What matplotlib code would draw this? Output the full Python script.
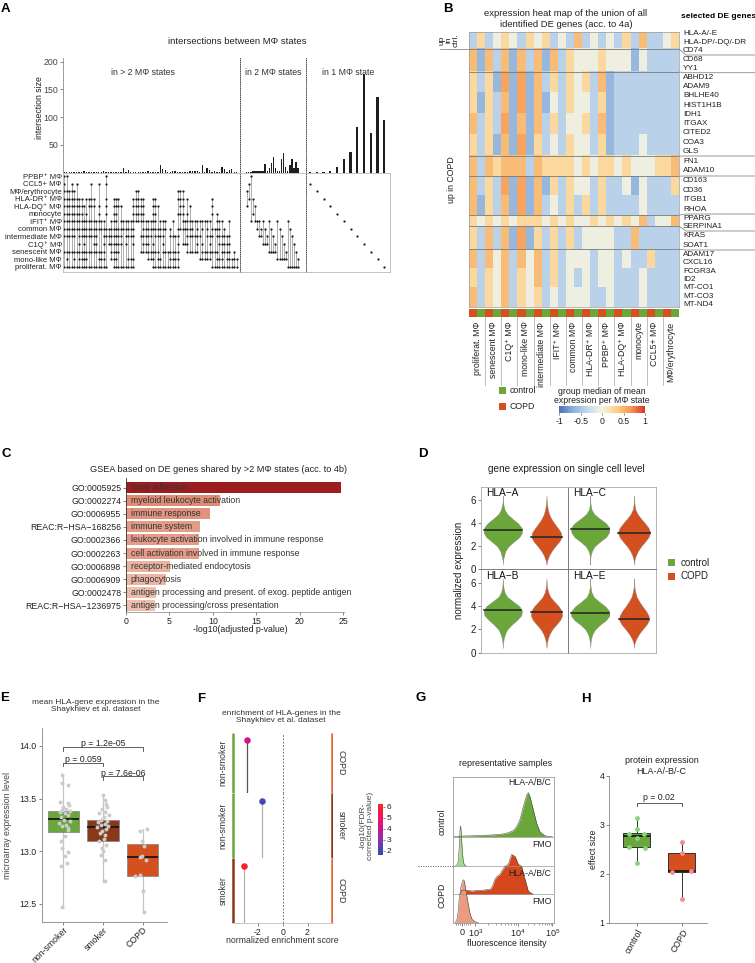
import numpy as np
import matplotlib
matplotlib.use('Agg')
import matplotlib.pyplot as plt
from matplotlib.colors import LinearSegmentedColormap, ListedColormap, Normalize
from matplotlib.patches import Rectangle
from matplotlib.lines import Line2D
from matplotlib.cm import ScalarMappable

plt.rcParams['font.family'] = ['Liberation Sans', 'DejaVu Sans']
plt.rcParams['mathtext.fontset'] = 'custom'
plt.rcParams['mathtext.rm'] = 'Liberation Sans'
plt.rcParams['mathtext.it'] = 'Liberation Sans:italic'
plt.rcParams['mathtext.bf'] = 'Liberation Sans:bold'
plt.rcParams['mathtext.default'] = 'regular'
plt.rcParams['axes.linewidth'] = 0.6
for a in ('xtick', 'ytick'):
    plt.rcParams[a + '.major.size'] = 2.0
    plt.rcParams[a + '.major.width'] = 0.5
    plt.rcParams[a + '.major.pad'] = 1.5
    plt.rcParams[a + '.minor.size'] = 1.2
    plt.rcParams[a + '.minor.width'] = 0.4
    plt.rcParams[a + '.color'] = '#555555'
    plt.rcParams[a + '.labelcolor'] = '#222222'
    plt.rcParams[a + '.labelsize'] = 6.3

# ============================ DATA ============================
# ---- Panel A: UpSet plot ----
A_sets = ['PPBP\u207a MΦ', 'CCL5+ MΦ', 'MΦ/erythrocyte', 'HLA-DR\u207a MΦ', 'HLA-DQ\u207a MΦ',
          'monocyte', 'IFIT\u207a MΦ', 'common MΦ', 'intermediate MΦ', 'C1Q\u207a MΦ',
          'senescent MΦ', 'mono-like MΦ', 'proliferat. MΦ']
# membership of the >2-state intersections, as runs of column indices per set
A_multi_runs = [
    [(0, 1), (17, 17)],
    [(0, 0), (3, 3), (5, 5), (11, 11), (14, 14), (17, 17)],
    [(0, 4), (29, 30), (46, 48)],
    [(0, 7), (9, 12), (17, 17), (20, 22), (28, 32), (36, 37), (46, 48), (50, 50), (60, 60)],
    [(0, 8), (10, 12), (14, 14), (17, 17), (20, 23), (28, 32), (36, 38), (47, 48), (51, 51), (60, 60)],
    [(0, 7), (9, 9), (14, 14), (17, 17), (20, 21), (28, 32), (36, 37), (46, 48), (50, 50), (60, 60), (62, 62)],
    [(0, 16), (19, 21), (23, 27), (28, 32), (33, 37), (39, 41), (44, 44), (48, 54), (55, 58), (59, 59), (62, 64), (67, 67)],
    [(0, 28), (32, 41), (43, 43), (46, 52), (54, 54), (56, 56), (58, 58), (60, 63), (65, 65)],
    [(0, 4), (6, 9), (10, 13), (16, 23), (25, 28), (31, 35), (37, 40), (43, 46), (50, 55), (58, 60), (62, 67)],
    [(6, 6), (8, 8), (12, 13), (16, 16), (18, 21), (22, 22), (23, 23), (25, 25), (28, 28), (32, 34), (36, 36),
     (40, 40), (46, 46), (48, 50), (54, 54), (56, 56), (59, 59), (63, 67)],
    [(0, 16), (19, 22), (31, 38), (40, 46), (50, 54), (56, 62), (64, 67), (69, 69)],
    [(1, 1), (4, 4), (6, 6), (7, 9), (14, 16), (19, 21), (26, 28), (34, 36), (38, 39), (43, 46), (55, 59),
     (62, 64), (66, 70)],
    [(0, 9), (9, 17), (20, 28), (36, 46), (60, 70)],
]
A_multi_sizes = [1, 1, 1, 1, 1, 1, 1, 1, 2, 1,
                 1, 1, 1, 1, 1, 1, 2, 1, 1, 1,
                 1, 1, 1, 1, 8, 1, 5, 1, 1, 1,
                 1, 1, 1, 1, 2, 1, 1, 1, 1, 13,
                 7, 5, 1, 1, 3, 3, 1, 1, 1, 1,
                 1, 2, 3, 2, 3, 1, 14, 1, 9, 4,
                 1, 2, 1, 1, 10, 7, 1, 5, 6, 1,
                 1]
A_pair_members = [(2, 4), (1, 3), (0, 6), (3, 5), (4, 6), (6, 7), (6, 8), (7, 8), (6, 9), (7, 9), (8, 9),
                  (6, 10), (7, 10), (8, 10), (9, 10), (6, 11), (7, 11), (8, 11), (9, 11), (10, 11),
                  (6, 12), (7, 12), (8, 12), (9, 12), (10, 12), (11, 12)]
A_pair_sizes = [1, 1, 1, 2, 3, 3, 3, 3, 3, 15, 3, 9, 17, 28, 9, 2, 2, 25, 35, 11, 2, 13, 25, 9, 19, 9]
A_single_members = [1, 2, 3, 4, 5, 6, 7, 8, 9, 10, 11, 12]
A_single_sizes = [1, 1, 1, 2, 10, 25, 37, 82, 178, 72, 136, 94]
A_regions = ['in > 2 MΦ states', 'in 2 MΦ states', 'in 1 MΦ state']
A_yticks = [50, 100, 150, 200]

# ---- Panel B: heat map ----
B_states = ['proliferat. MΦ', 'senescent MΦ', 'C1Q\u207a MΦ', 'mono-like MΦ', 'intermediate MΦ',
            'IFIT\u207a MΦ', 'common MΦ', 'HLA-DR\u207a MΦ', 'PPBP\u207a MΦ', 'HLA-DQ\u207a MΦ',
            'monocyte', 'CCL5+ MΦ', 'MΦ/erythrocyte']
B_conditions = ['COPD', 'control']
# each digit is a colour level (see B_levels); pairs = (COPD, control) per state
B_levels = [-1.0, -0.8, -0.62, -0.4, -0.05, 0.25, 0.45, 0.6, 0.8]
B_bands = [
    "35 34 54 35 45 34 36 34 34 35 36 33 45",
    "62 63 62 63 62 63 54 44 54 44 24 33 33",
    "53 52 72 72 63 53 54 53 62 33 33 33 33",
    "52 53 62 72 62 43 54 43 52 33 33 33 33",
    "63 53 72 62 63 53 44 53 62 33 33 33 33",
    "53 52 62 72 53 43 54 43 52 33 34 33 33",
    "63 65 66 63 65 55 54 54 55 45 44 45 56",
    "63 53 72 72 62 53 54 43 53 34 24 33 35",
    "62 53 62 72 63 43 53 53 53 33 34 33 33",
    "54 54 54 55 54 54 54 45 45 45 46 34 46",
    "53 63 62 72 53 53 53 44 44 33 63 33 33",
    "63 64 63 64 63 53 44 43 44 34 33 53 33",
    "53 54 63 54 63 53 43 43 44 33 34 33 33",
    "63 54 63 54 53 43 44 43 34 33 34 33 33",
]
B_band_rows = [17, 23, 21, 21, 21, 21, 20, 19, 20, 11, 23, 19, 19, 20]
B_block_bands = [1, 1, 4, 1, 2, 1, 1, 3]
B_genes = [['HLA-A/-E', 'HLA-DP/-DQ/-DR', 'CD74'], ['CD68', 'YY1'],
           ['ABHD12', 'ADAM9', 'BHLHE40', 'HIST1H1B', 'IDH1', 'ITGAX', 'CITED2', 'COA3', 'GLS'],
           ['FN1', 'ADAM10'], ['CD163', 'CD36', 'ITGB1', 'RHOA'], ['PPARG', 'SERPINA1'],
           ['KRAS', 'SOAT1'], ['ADAM17', 'CXCL16', 'FCGR3A', 'ID2', 'MT-CO1', 'MT-CO3', 'MT-ND4']]
B_cbar_ticks = [-1, -0.5, 0, 0.5, 1]
B_cbar_labels = ['-1', '-0.5', '0', '0.5', '1']

# ---- Panel C: GSEA ----
C_terms = ['GO:0005925', 'GO:0002274', 'GO:0006955', 'REAC:R\u2212HSA\u2212168256', 'GO:0002366',
           'GO:0002263', 'GO:0006898', 'GO:0006909', 'GO:0002478', 'REAC:R\u2212HSA\u22121236975']
C_desc = ['focal adhesion', 'myeloid leukocyte activation', 'immune response', 'immune system',
          'leukocyte activation involved in immune response', 'cell activation involved in immune response',
          'receptor-mediated endocytosis', 'phagocytosis',
          'antigen processing and present. of exog. peptide antigen', 'antigen processing/cross presentation']
C_values = [24.7, 10.8, 9.7, 8.5, 8.4, 8.4, 5.1, 4.6, 3.5, 3.3]
C_xticks = [0, 5, 10, 15, 20, 25]

# ---- Panel D: violins (half-widths read at D_grid levels) ----
D_genes = ['HLA\u2212A', 'HLA\u2212C', 'HLA\u2212B', 'HLA\u2212E']
D_groups = ['control', 'COPD']
D_grid = [0.4, 0.8, 1.2, 1.6, 2.0, 2.4, 2.8, 3.2, 3.6, 4.0, 4.4, 4.8, 5.2, 5.6, 6.0, 6.4]
D_width_ctrl = [
    [0, 0.005, 0.03, 0.06, 0.13, 0.25, 0.38, 0.44, 0.43, 0.35, 0.22, 0.10, 0.04, 0.015, 0, 0],
    [0, 0, 0.01, 0.04, 0.10, 0.22, 0.36, 0.43, 0.44, 0.36, 0.22, 0.09, 0.03, 0.01, 0, 0],
    [0, 0.005, 0.02, 0.05, 0.10, 0.20, 0.32, 0.42, 0.44, 0.38, 0.24, 0.10, 0.04, 0.015, 0.005, 0],
    [0, 0.005, 0.02, 0.05, 0.11, 0.22, 0.36, 0.44, 0.43, 0.34, 0.20, 0.08, 0.03, 0.01, 0, 0],
]
D_width_copd = [
    [0, 0.02, 0.06, 0.12, 0.20, 0.29, 0.35, 0.33, 0.26, 0.18, 0.11, 0.06, 0.03, 0.015, 0.005, 0],
    [0, 0.01, 0.04, 0.09, 0.16, 0.25, 0.33, 0.37, 0.33, 0.25, 0.16, 0.08, 0.03, 0.012, 0.004, 0],
    [0, 0.01, 0.03, 0.07, 0.13, 0.22, 0.31, 0.36, 0.35, 0.28, 0.18, 0.09, 0.04, 0.015, 0.005, 0],
    [0, 0.01, 0.05, 0.11, 0.19, 0.28, 0.34, 0.33, 0.27, 0.19, 0.12, 0.06, 0.03, 0.01, 0.004, 0],
]
D_median_ctrl = [3.42, 3.5, 3.7, 3.45]
D_median_copd = [2.85, 3.15, 3.5, 2.9]
D_yticks = [0, 2, 4, 6]

# ---- Panel E: box plots ----
E_groups = ['non-smoker', 'smoker', 'COPD']
E_box = [(13.18, 13.31, 13.38, 12.46, 13.72),   # q1, median, q3, low, high
         (13.10, 13.23, 13.30, 12.71, 13.53),
         (12.76, 12.94, 13.07, 12.41, 13.21)]
E_pts_ns = [13.72, 13.65, 13.63, 13.47, 13.46, 13.44, 13.42, 13.40, 13.39, 13.38, 13.37, 13.36, 13.34,
            13.32, 13.30, 13.29, 13.27, 13.25, 13.24, 13.22, 13.20, 13.14, 13.10, 13.03, 12.99, 12.95,
            12.89, 12.86, 12.47]
E_jit_ns = [-0.02, -0.03, 0.13, -0.07, 0.11, 0.15, 0.0, 0.07, -0.04, 0.18, -0.09, 0.04, 0.12,
            -0.06, 0.02, 0.16, -0.1, 0.08, -0.03, 0.12, 0.13, 0.05, -0.05, -0.04, 0.13, 0.04,
            0.09, -0.06, -0.03]
E_pts_sm = [13.53, 13.49, 13.45, 13.42, 13.40, 13.37, 13.36, 13.34, 13.32, 13.30, 13.29, 13.28, 13.26,
            13.25, 13.24, 13.23, 13.21, 13.19, 13.17, 13.15, 13.12, 13.10, 13.06, 13.03, 13.00, 12.96,
            12.92, 12.72]
E_jit_sm = [0.0, 0.05, 0.08, 0.11, -0.03, 0.06, -0.1, 0.14, 0.02, -0.06, 0.1, -0.12, 0.04,
            -0.04, 0.12, -0.15, 0.08, -0.02, -0.08, 0.06, 0.02, -0.1, 0.07, -0.02, 0.0, -0.06,
            0.05, 0.05]
E_pts_co = [13.21, 13.19, 13.10, 13.05, 12.95, 12.94, 12.92, 12.77, 12.76, 12.62, 12.42]
E_jit_co = [0.1, -0.07, -0.03, 0.03, -0.03, -0.08, 0.08, -0.07, -0.19, 0.0, 0.02]
E_pvals = [(1, 3, 13.99, 'p = 1.2e-05'), (1, 2, 13.84, 'p = 0.059'), (2, 3, 13.71, 'p = 7.6e-06')]
E_yticks = [12.5, 13.0, 13.5, 14.0]

# ---- Panel F: lollipops ----
F_left = ['non-smoker', 'non-smoker', 'smoker']
F_right = ['COPD', 'smoker', 'COPD']
F_nes = [-2.9, -1.67, -3.1]
F_logp = [4.2, 2.0, 6.0]
F_xticks = [-2, 0, 2]
F_cbar_ticks = [2, 3, 4, 5, 6]

# ---- Panel G: flow histograms (x in display units, heights normalised) ----
G_tick_pos = [0, 13, 55.4, 90]
G_tick_lab = ['0', '$10^{3}$', '$10^{4}$', '$10^{5}$']
G_ctrl_hla_t = [-8, -4, 0, 10, 20, 30, 40, 46, 51, 54.4, 57.7, 61, 64.4, 66, 67.7, 71, 74.4, 77.7, 82.7, 90]
G_ctrl_hla_h = [0, 0.01, 0.015, 0.02, 0.03, 0.04, 0.06, 0.09, 0.14, 0.23, 0.39, 0.68, 0.95, 1.0, 0.91,
                0.61, 0.30, 0.11, 0.02, 0]
G_ctrl_fmo_t = [-7, -5, -4, -3, -2.2, -1.6, -1, 0, 1, 2, 4]
G_ctrl_fmo_h = [0, 0.03, 0.12, 0.5, 0.92, 1.0, 0.82, 0.38, 0.12, 0.03, 0]
G_copd_hla_t = [-2, -0.6, 5, 10, 15, 20, 25, 27.7, 30, 32.7, 35, 37.7, 40, 42.7, 46, 49.4, 51, 52.7, 56,
                59.4, 61, 62.7, 66, 71]
G_copd_hla_h = [0, 0.1, 0.1, 0.08, 0.1, 0.1, 0.12, 0.12, 0.19, 0.38, 0.45, 0.5, 0.6, 0.7, 0.75, 1.0,
                0.97, 0.95, 0.75, 0.7, 0.5, 0.38, 0.08, 0]
G_copd_fmo_t = [-7, -5, -4, -3, -1, 1, 2, 4, 6, 8, 10, 13, 16]
G_copd_fmo_h = [0, 0.1, 0.3, 0.58, 0.88, 1.0, 0.97, 0.7, 0.42, 0.19, 0.07, 0.02, 0]

# ---- Panel H ----
H_groups = ['control', 'COPD']
H_box = [(2.55, 2.77, 2.84, 2.21, 3.14), (2.03, 2.05, 2.42, 1.48, 2.64)]
H_pts_ctrl = [3.14, 2.92, 2.82, 2.82, 2.73, 2.55, 2.52, 2.21]
H_jit_ctrl = [0.0, 0.0, -0.18, 0.16, 0.0, -0.18, 0.18, 0.0]
H_pts_copd = [2.64, 2.42, 2.04, 2.05, 1.48]
H_jit_copd = [0.0, 0.0, -0.21, 0.2, 0.0]
H_p = (1, 2, 3.44, 'p = 0.02')
H_yticks = [1, 2, 3, 4]

# ============================ STYLE ============================
GREEN = '#6aa63a'
COPD_C = '#d4501e'
SMOKER_C = '#8a3818'
HEAT_CMAP = LinearSegmentedColormap.from_list(
    'heat', ['#4a74b4', '#8fb4dc', '#c6daee', '#f6f3df', '#fcd08a', '#f59a55', '#d7352a'])
W, H = 755, 963
fig = plt.figure(figsize=(W / 100, H / 100), dpi=100)


def ax_px(x0, y0, x1, y1):
    return fig.add_axes([x0 / W, 1 - y1 / H, (x1 - x0) / W, (y1 - y0) / H])


def txt(x, y, s, **kw):
    kw.setdefault('fontsize', 6.3)
    kw.setdefault('color', '#222222')
    return fig.text(x / W, 1 - y / H, s, **kw)


def rect_px(x0, y0, x1, y1, color):
    fig.add_artist(Rectangle((x0 / W, 1 - y1 / H), (x1 - x0) / W, (y1 - y0) / H,
                             transform=fig.transFigure, color=color, lw=0))


def line_px(xs, ys, **kw):
    fig.add_artist(Line2D([x / W for x in xs], [1 - y / H for y in ys], transform=fig.transFigure, **kw))


def hide(ax, sides):
    for s in sides:
        ax.spines[s].set_visible(False)


for lab, (x, y) in zip('ABCDEFGH', [(1, 9), (443, 9), (1, 454), (418, 454), (0, 698), (197, 699),
                                    (416, 698), (581, 699)]):
    txt(x, y, lab, fontsize=9.5, fontweight='bold', ha='left', va='center', color='black')

# ============================ PANEL A ============================
txt(237, 42, 'intersections between MΦ states', ha='center', va='center', fontsize=6.8)
txt(39.5, 108, 'intersection size', rotation=90, ha='center', va='center', fontsize=6.3)

multi_cols = [[] for _ in A_multi_sizes]
for r, runs in enumerate(A_multi_runs):
    for a, b in runs:
        for c in range(a, b + 1):
            if r not in multi_cols[c]:
                multi_cols[c].append(r)
pair_cols = [list(p) for p in A_pair_members]
single_cols = [[r] for r in A_single_members]

regions = [
    (63, 240, multi_cols, A_multi_sizes, (-0.53, 71.34), 0.55),
    (240, 306, pair_cols, A_pair_sizes, (-3.27, 28.9), 0.7),
    (306, 390, single_cols, A_single_sizes, (-0.59, 11.84), 0.32),
]
YTOP = 206.7
DOT = (0, (1, 1.6))
for k, (x0, x1, cols, sizes, xl, bw) in enumerate(regions):
    axb = ax_px(x0, 58, x1, 172.6)
    axb.bar(np.arange(len(sizes)), sizes, width=bw, color='#1e1e1e', linewidth=0)
    axb.set_xlim(*xl)
    axb.set_ylim(0, YTOP)
    axb.set_xticks([])
    hide(axb, ['top', 'right', 'bottom'])
    axb.patch.set_alpha(0)
    if k == 0:
        axb.spines['left'].set_color('#8a8a8a')
        axb.set_yticks(A_yticks)
        axb.tick_params(axis='y', labelsize=6.3, labelcolor='#444444')
    else:
        axb.spines['left'].set_linestyle(DOT)
        axb.spines['left'].set_color('#333333')
        axb.set_yticks([])
    axb.text(0.45 if k == 0 else 0.5, 0.87, A_regions[k], transform=axb.transAxes, ha='center', va='center',
             fontsize=6.3, color='#333333')

    axm = ax_px(x0, 172.6, x1, 272)
    axm.set_xlim(*xl)
    axm.set_ylim(12.7, -0.45)
    for i, mem in enumerate(cols):
        if len(mem) > 1:
            axm.plot([i, i], [min(mem), max(mem)], color='#a0a0a0', lw=0.6, zorder=1)
        axm.plot([i] * len(mem), mem, 'o', ms=1.6, color='#1a1a1a', mew=0, zorder=2)
    axm.set_xticks([])
    for s in ['top', 'bottom']:
        axm.spines[s].set_color('#b8b8b8')
    if k == 0:
        axm.spines['left'].set_color('#b8b8b8')
        axm.set_yticks(range(len(A_sets)))
        axm.set_yticklabels(A_sets, fontsize=5.5)
        axm.tick_params(axis='y', length=0, pad=0.8)
    else:
        axm.spines['left'].set_linestyle(DOT)
        axm.spines['left'].set_color('#333333')
        axm.set_yticks([])
    if k == 2:
        axm.spines['right'].set_color('#b8b8b8')
    else:
        axm.spines['right'].set_visible(False)

# ============================ PANEL B ============================
txt(566, 19, 'expression heat map of the union of all\nidentified DE genes (acc. to 4a)',
    ha='center', va='center', fontsize=6.8, linespacing=1.15)
txt(681, 17, 'selected DE genes', ha='left', va='center', fontsize=6.0, fontweight='bold', color='black')

hm = []
for band, n in zip(B_bands, B_band_rows):
    digits = band.replace(' ', '')
    hm.extend([[B_levels[int(ch)] for ch in digits]] * n)
hm = np.array(hm)
nrow, ncol = hm.shape
HX0, HY0, HX1, HY1 = 469, 32, 679, 307.3
axH = ax_px(HX0, HY0, HX1, HY1)
axH.imshow(hm, aspect='auto', cmap=HEAT_CMAP, vmin=-1, vmax=1, interpolation='nearest',
           extent=(0, ncol, nrow, 0))
axH.set_xticks([])
axH.set_yticks([])
for s in axH.spines.values():
    s.set_color('#9a9a9a')
    s.set_linewidth(0.5)
bounds = np.cumsum(B_band_rows)
block_ends = []
k = 0
for nb in B_block_bands:
    k += nb
    block_ends.append(bounds[k - 1])
for b in block_ends[:-1]:
    axH.axhline(b, color='#7a7a7a', lw=0.6)

LABEL_SEPS = [29, 55, 72.7, 156, 176, 214, 231, 250, 309]
for g, genes in enumerate(B_genes):
    top, bot = LABEL_SEPS[g], LABEL_SEPS[g + 1]
    step = (bot - top) / len(genes)
    for i, gname in enumerate(genes):
        txt(683, top + (i + 0.5) * step, gname, ha='left', va='center', fontsize=5.9)
    if g < len(B_genes) - 1:
        yb = HY0 + block_ends[g] * (HY1 - HY0) / nrow
        line_px([HX1, 686, 755], [yb, bot, bot], color='#8a8a8a', lw=0.6)

yb0 = HY0 + block_ends[0] * (HY1 - HY0) / nrow
line_px([440, HX1], [yb0, yb0], color='#8a8a8a', lw=0.6)
txt(449, 40, 'up\nin\nctrl.', rotation=90, ha='center', va='center', fontsize=6.0, linespacing=1.0)
txt(451, 180, 'up in COPD', rotation=90, ha='center', va='center', fontsize=6.3)

cond_codes = np.array([[B_conditions.index(c) for _ in B_states for c in B_conditions]])
axA = ax_px(HX0, 309, HX1, 317.5)
axA.imshow(cond_codes, aspect='auto', cmap=ListedColormap([COPD_C, GREEN]), vmin=0, vmax=1,
           extent=(0, ncol, 1, 0), interpolation='nearest')
axA.axis('off')

axL = ax_px(HX0, 317.5, HX1, 386)
axL.set_xlim(0, ncol)
axL.set_ylim(0, 1)
axL.axis('off')
for i in range(1, len(B_states)):
    axL.plot([2 * i, 2 * i], [0, 1], color='#b4b4b4', lw=0.6)
for i, s in enumerate(B_states):
    axL.text(2 * i + 1, 0.94, s, rotation=90, ha='center', va='top', fontsize=6.3, color='#222222')

rect_px(498.7, 386.7, 506, 394, GREEN)
txt(509.5, 390.5, 'control', ha='left', va='center', fontsize=6.3)
rect_px(498.7, 402.7, 506, 409.7, COPD_C)
txt(509.5, 406.2, 'COPD', ha='left', va='center', fontsize=6.3)
txt(602, 396, 'group median of mean\nexpression per MΦ state', ha='center', va='center',
    fontsize=6.3, linespacing=1.05)
caxB = ax_px(559.3, 406, 645, 412.7)
cbB = fig.colorbar(ScalarMappable(norm=Normalize(-1, 1), cmap=HEAT_CMAP), cax=caxB,
                   orientation='horizontal', ticks=B_cbar_ticks)
cbB.ax.set_xticklabels(B_cbar_labels)
cbB.outline.set_visible(False)
cbB.ax.tick_params(length=1.5, labelsize=6.3, pad=1.5)

# ============================ PANEL C ============================
txt(218, 469, 'GSEA based on DE genes shared by >2 MΦ states (acc. to 4b)', ha='center', va='center',
    fontsize=6.6)
axC = ax_px(126, 478, 343.5, 612.3)
cmapC = LinearSegmentedColormap.from_list('c', ['#f7d3c5', '#d9826a', '#9b1b1e'])
normC = Normalize(0, 25)
yC = np.arange(len(C_values))
axC.barh(yC, C_values, height=0.84, color=cmapC(normC(np.array(C_values))), lw=0)
axC.set_ylim(9.54, -0.745)
axC.set_xlim(0, 25.02)
axC.set_yticks(yC)
axC.set_yticklabels(C_terms, fontsize=6.3)
axC.set_xticks(C_xticks)
for yi, d in zip(yC, C_desc):
    axC.text(0.55, yi, d, va='center', ha='left', fontsize=6.3, color='#333333')
hide(axC, ['top', 'right'])
axC.spines['left'].set_color('#333333')
axC.spines['bottom'].set_color('#999999')
txt(240, 629, '-log10(adjusted p-value)', ha='center', va='center', fontsize=6.3)

# ============================ PANEL D ============================
txt(566, 469, 'gene expression on single cell level', ha='center', va='center', fontsize=7.2)
txt(459, 570, 'normalized expression', rotation=90, ha='center', va='center', fontsize=7)
D_boxes = [(481, 486.7, 568.3, 569.3), (568.3, 486.7, 656, 569.3),
           (481, 569.3, 568.3, 652.7), (568.3, 569.3, 656, 652.7)]
for gi, (gene, box) in enumerate(zip(D_genes, D_boxes)):
    ax = ax_px(*box)
    ax.set_xlim(0.5, 2.5)
    ax.set_ylim(0, 7.18)
    for pos, widths, med, col in [(1, D_width_ctrl[gi], D_median_ctrl[gi], GREEN),
                                  (2, D_width_copd[gi], D_median_copd[gi], COPD_C)]:
        wv = np.array(widths)
        ax.fill_betweenx(D_grid, pos - wv, pos + wv, facecolor=col, edgecolor='#8a8a8a', lw=0.3)
        hw = np.interp(med, D_grid, wv)
        ax.plot([pos - hw, pos + hw], [med, med], color='#222222', lw=1.1)
    ax.text(0.06, 0.92, gene, transform=ax.transAxes, ha='left', va='center', fontsize=7.3, color='#111111')
    ax.set_xticks([])
    for s in ax.spines.values():
        s.set_color('#a8a8a8')
        s.set_linewidth(0.6)
    if gi % 2 == 0:
        ax.set_yticks(D_yticks)
        ax.tick_params(axis='y', labelsize=7, length=2)
        ax.spines['right'].set_color('#666666')
    else:
        ax.set_yticks([])
        ax.spines['left'].set_color('#666666')
    if gi < 2:
        ax.spines['bottom'].set_color('#666666')
    else:
        ax.spines['top'].set_color('#666666')
rect_px(668, 559, 675, 566, GREEN)
txt(680.5, 562.7, 'control', ha='left', va='center', fontsize=7)
rect_px(668, 573, 675, 580, COPD_C)
txt(680.5, 576.3, 'COPD', ha='left', va='center', fontsize=7)

# ============================ PANEL E ============================
txt(96, 706, 'mean HLA-gene expression in the\nShaykhiev et al. dataset', ha='center', va='center',
    fontsize=6.0, linespacing=1.15, color='#333333')
axE = ax_px(41.7, 728, 166.7, 921.7)
statsE = [dict(q1=q1, med=m, q3=q3, whislo=lo, whishi=hi, fliers=[]) for q1, m, q3, lo, hi in E_box]
bpE = axE.bxp(statsE, positions=[1, 2, 3], widths=0.78, patch_artist=True, showcaps=False,
              showfliers=False,
              boxprops=dict(edgecolor='#8a8a8a', linewidth=0.6),
              whiskerprops=dict(color='#c4c4c4', linewidth=0.9),
              medianprops=dict(color='#111111', linewidth=1.2))
for patch, c in zip(bpE['boxes'], [GREEN, SMOKER_C, COPD_C]):
    patch.set_facecolor(c)
for wl in bpE['whiskers']:
    wl.set_zorder(1)
for pos, ys, js in [(1, E_pts_ns, E_jit_ns), (2, E_pts_sm, E_jit_sm), (3, E_pts_co, E_jit_co)]:
    axE.scatter(pos + np.array(js), ys, s=8, color='#cbcbcb', lw=0, zorder=4)
for x1, x2, yv, lab in E_pvals:
    axE.plot([x1, x1, x2, x2], [yv - 0.035, yv, yv, yv - 0.035], color='#444444', lw=0.6)
    axE.text((x1 + x2) / 2, yv - 0.012, lab, ha='center', va='bottom', fontsize=6.3, color='#222222')
axE.set_xlim(0.46, 3.6)
axE.set_ylim(12.33, 14.17)
axE.set_yticks(E_yticks)
axE.set_yticklabels([f'{v:.1f}' for v in E_yticks])
axE.set_xticks([1, 2, 3])
axE.set_xticklabels(E_groups, rotation=45, ha='right', rotation_mode='anchor', fontsize=5.7)
axE.tick_params(labelsize=6.3)
axE.tick_params(axis='x', pad=0.8)
hide(axE, ['top', 'right'])
axE.spines['left'].set_color('#888888')
axE.spines['bottom'].set_color('#888888')
txt(8, 825, 'microarray expression level', rotation=90, ha='center', va='center', fontsize=6.3,
    color='#444444')

# ============================ PANEL F ============================
txt(281, 717, 'enrichment of HLA-genes in the\nShaykhiev et al. dataset', ha='center', va='center',
    fontsize=6.0, linespacing=1.15, color='#333333')
cmapF = LinearSegmentedColormap.from_list('f', ['#2a4fb8', '#7a3aa8', '#c8169a', '#f0165a', '#ff2222'])
normF = Normalize(1.6, 6.25)
gcol = {'non-smoker': GREEN, 'smoker': SMOKER_C, 'COPD': '#e0652f'}
F_spans = [(732.7, 793.3), (793.3, 858.3), (858.3, 923.3)]
for i, (y0, y1) in enumerate(F_spans):
    ax = ax_px(231.7, y0, 332.7, y1)
    ax.set_xlim(-4.11, 4.03)
    ax.set_ylim(0, 1.13)
    ax.axvline(0, color='#555555', lw=0.6, ls=(0, (2, 2)))
    ax.plot([F_nes[i], F_nes[i]], [0, 1], color='#555555' if i == 0 else '#b0b0b0', lw=0.9, zorder=2)
    ax.scatter([F_nes[i]], [1], s=22, color=cmapF(normF(F_logp[i])), zorder=3, lw=0)
    ax.plot([0.008, 0.008], [0.01, 1], transform=ax.transAxes, color=gcol[F_left[i]], lw=1.8,
            solid_capstyle='butt')
    ax.plot([0.992, 0.992], [0.01, 1], transform=ax.transAxes, color=gcol[F_right[i]], lw=1.8,
            solid_capstyle='butt')
    ax.text(-0.04, 0.5, F_left[i], transform=ax.transAxes, rotation=90, ha='right', va='center',
            fontsize=6.3, color='#333333')
    ax.text(1.04, 0.5, F_right[i], transform=ax.transAxes, rotation=270, ha='left', va='center',
            fontsize=6.3, color='#333333')
    hide(ax, ['top', 'left', 'right'])
    ax.spines['bottom'].set_color('#c0c0c0')
    ax.set_yticks([])
    if i < 2:
        ax.set_xticks([])
    else:
        ax.set_xticks(F_xticks)
        ax.set_xticklabels([str(v) for v in F_xticks])
        ax.tick_params(axis='x', labelsize=6.3)
txt(282, 940, 'normalized enrichment score', ha='center', va='center', fontsize=6.3, color='#333333')
caxF = ax_px(377.7, 804, 383.3, 855)
cbF = fig.colorbar(ScalarMappable(norm=normF, cmap=cmapF), cax=caxF, ticks=F_cbar_ticks)
cbF.outline.set_visible(False)
cbF.ax.tick_params(length=1.5, labelsize=6.0, pad=1)
txt(366.5, 826, '-log10(FDR-\ncorrected p-value)', rotation=90, ha='center', va='center', fontsize=6.0,
    linespacing=1.1, color='#444444')

# ============================ PANEL G ============================
txt(506, 763.3, 'representative samples', ha='center', va='center', fontsize=6.5)
axG = ax_px(453.3, 776.7, 554, 922.7)
axG.set_xlim(-9, 91.7)
axG.set_ylim(0, 146)
G_tracks = [(G_ctrl_hla_t, G_ctrl_hla_h, 86, 44, GREEN),
            (G_ctrl_fmo_t, G_ctrl_fmo_h, 56.7, 40, '#a6d88c'),
            (G_copd_hla_t, G_copd_hla_h, 28.4, 40, '#d4461b'),
            (G_copd_fmo_t, G_copd_fmo_h, 0, 43, '#eb9c80')]
for t, h, base, scale, color in G_tracks:
    yv = base + np.array(h) * scale
    axG.fill_between(t, base, yv, color=color, lw=0)
    axG.plot(t, yv, color='#3a3a3a', lw=0.35)
    if base > 0:
        axG.axhline(base, color='#9a9a9a', lw=0.5)
for lab, yy in [('HLA-A/B/C', 140), ('FMO', 78.5), ('HLA-A/B/C', 49.7), ('FMO', 21)]:
    axG.text(89, yy, lab, ha='right', va='center', fontsize=6.3, color='#222222')
axG.set_yticks([])
axG.set_xticks(G_tick_pos)
axG.set_xticklabels(G_tick_lab, fontsize=6.5)
minor = [-6, -4, -2, 2, 4, 6, 8]
minor += [G_tick_pos[1] + (G_tick_pos[2] - G_tick_pos[1]) * np.log10(k) for k in range(2, 10)]
minor += [G_tick_pos[2] + (G_tick_pos[3] - G_tick_pos[2]) * np.log10(k) for k in range(2, 10)]
axG.set_xticks(minor, minor=True)
for s in axG.spines.values():
    s.set_color('#9a9a9a')
    s.set_linewidth(0.6)
txt(441.7, 821.7, 'control', rotation=90, ha='center', va='center', fontsize=6.3)
txt(441.7, 895, 'COPD', rotation=90, ha='center', va='center', fontsize=6.3)
line_px([418, 453.3], [866, 866], color='#555555', lw=0.7, ls=(0, (1, 1.5)))
txt(507, 943, 'fluorescence itensity', ha='center', va='center', fontsize=6.3)

# ============================ PANEL H ============================
txt(661.7, 766, 'protein expression\nHLA-A/-B/-C', ha='center', va='center', fontsize=6.5,
    linespacing=1.15)
axHh = ax_px(609.3, 775.7, 707.3, 922.7)
statsH = [dict(q1=q1, med=m, q3=q3, whislo=lo, whishi=hi, fliers=[]) for q1, m, q3, lo, hi in H_box]
bpH = axHh.bxp(statsH, positions=[1, 2], widths=0.59, patch_artist=True, showcaps=False, showfliers=False,
               boxprops=dict(edgecolor='#333333', linewidth=0.7),
               whiskerprops=dict(color='#333333', linewidth=0.7),
               medianprops=dict(color='#111111', linewidth=1.2))
for patch, c in zip(bpH['boxes'], [GREEN, COPD_C]):
    patch.set_facecolor(c)
axHh.scatter(1 + np.array(H_jit_ctrl), H_pts_ctrl, s=12, color='#86d47a', lw=0, zorder=4)
axHh.scatter(2 + np.array(H_jit_copd), H_pts_copd, s=12, color='#f58a94', lw=0, zorder=4)
x1, x2, yv, lab = H_p
axHh.plot([x1, x1, x2, x2], [yv - 0.05, yv, yv, yv - 0.05], color='#444444', lw=0.6)
axHh.text((x1 + x2) / 2, yv + 0.03, lab, ha='center', va='bottom', fontsize=6.3, color='#222222')
axHh.set_xlim(0.39, 2.57)
axHh.set_ylim(1, 4)
axHh.set_yticks(H_yticks)
axHh.set_xticks([1, 2])
axHh.set_xticklabels(H_groups, rotation=60, ha='right', rotation_mode='anchor', fontsize=6.3)
hide(axHh, ['top', 'right'])
axHh.spines['left'].set_color('#888888')
axHh.spines['bottom'].set_color('#888888')
txt(593.3, 849, 'effect size', rotation=90, ha='center', va='center', fontsize=6.3)

fig.savefig('out.png', dpi=100)
